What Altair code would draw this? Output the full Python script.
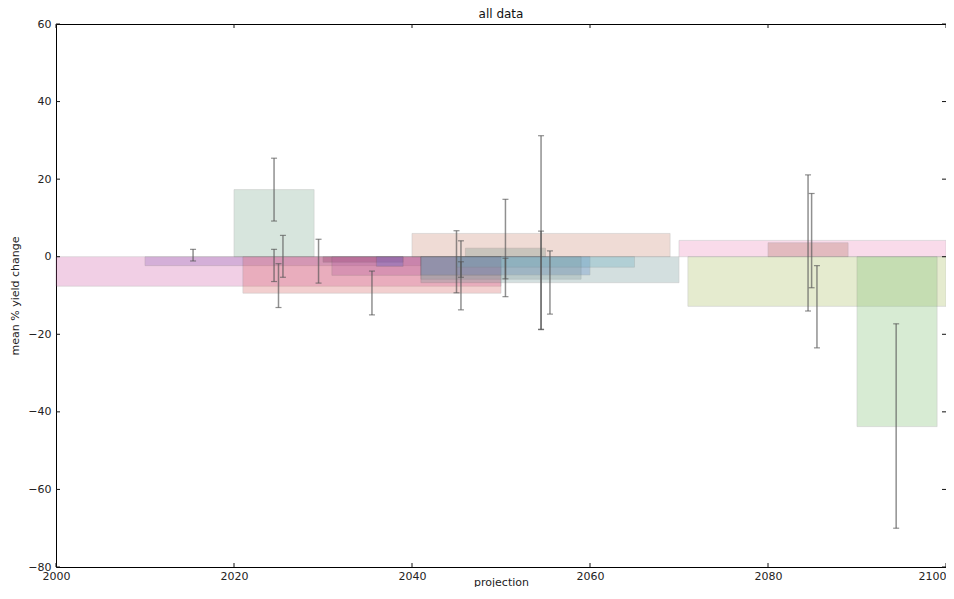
import altair as alt
import pandas as pd

# ---- data ----
bar_start = [2000, 2010, 2020, 2021, 2030, 2031, 2036, 2040, 2046, 2041, 2045, 2041, 2041, 2070, 2080, 2071, 2090]
bar_end   = [2050, 2041, 2029, 2050, 2039, 2050, 2039, 2069, 2055, 2060, 2065, 2059, 2070, 2100, 2089, 2100, 2099]
bar_value = [-7.6, -2.3, 17.3, -9.4, -1.4, -4.8, -2.5, 6.0, 2.2, -4.7, -2.7, -5.8, -6.7, 4.2, 3.6, -12.8, -43.8]
bar_color = ["#d462ac", "#9467bd", "#7dac91", "#d76262", "#8b3a62", "#b05a9a", "#5a6ad0",
             "#cd8a76", "#709184", "#4a7ad8", "#5fb4d0", "#8a9a9a", "#709898",
             "#ee8abc", "#b07060", "#acc062", "#7dc070"]

err_x    = [2015.4, 2024.5, 2024.5, 2025.0, 2025.5, 2029.5, 2035.5, 2045.0, 2045.5, 2045.5,
            2050.5, 2050.5, 2054.5, 2054.5, 2055.5, 2084.5, 2084.9, 2085.5, 2094.4]
err_low  = [-1.1, 9.2, -6.4, -13.1, -5.3, -6.8, -15.0, -9.3, -13.7, -5.3,
            -10.3, -5.7, -18.7, -18.8, -14.8, -14.0, -8.0, -23.5, -70.0]
err_high = [1.9, 25.4, 1.9, -1.8, 5.5, 4.5, -3.7, 6.7, 4.1, -1.3,
            14.8, -0.4, 31.2, 6.6, 1.5, 21.1, 16.3, -2.3, -17.3]

x_ticks = [2000, 2020, 2040, 2060, 2080, 2100]
y_ticks = [-80, -60, -40, -20, 0, 20, 40, 60]

bars = pd.DataFrame({"start": bar_start, "end": bar_end, "value": bar_value,
                     "color": bar_color, "zero": [0] * len(bar_value)})
errs = pd.DataFrame({"x": err_x, "low": err_low, "high": err_high})
xt = pd.DataFrame({"t": x_ticks})
yt = pd.DataFrame({"t": y_ticks})

W, H = 890, 543
FONT = "DejaVu Sans"

xscale = alt.Scale(domain=[2000, 2100], nice=False, zero=False)
yscale = alt.Scale(domain=[-80, 60], nice=False, zero=False)

xaxis = alt.Axis(values=x_ticks, format="d", title="projection", tickSize=0, domain=False,
                 grid=False, labelPadding=3, labelFontSize=11, titleFontSize=11,
                 titleFontWeight="normal", labelFont=FONT, titleFont=FONT,
                 labelColor="#222", titleColor="#222", titleY=18,
                 titleBaseline="alphabetic", labelFlush=False,
                 labelAlign=alt.condition(f"datum.value >= {x_ticks[-1]}",
                                          alt.value("right"), alt.value("center")))
yaxis = alt.Axis(values=y_ticks, title="mean % yield change", tickSize=0, domain=False,
                 grid=False, labelPadding=5, labelFontSize=11, titleFontSize=11,
                 titleFontWeight="normal", labelFont=FONT, titleFont=FONT,
                 labelColor="#222", titleColor="#222", titlePadding=7, labelFlush=False)

rects = alt.Chart(bars).mark_rect(opacity=0.3, stroke="#444", strokeOpacity=0.5,
                                  strokeWidth=1).encode(
    x=alt.X("start:Q", scale=xscale, axis=xaxis),
    x2="end:Q",
    y=alt.Y("value:Q", scale=yscale, axis=yaxis),
    y2="zero:Q",
    color=alt.Color("color:N", scale=None),
)

rules = alt.Chart(errs).mark_rule(color="#555", opacity=0.65, strokeWidth=1.5).encode(
    x=alt.X("x:Q", scale=xscale),
    y=alt.Y("low:Q", scale=yscale),
    y2="high:Q",
)

caps = alt.Chart(errs).transform_fold(["low", "high"], as_=["k", "v"]).mark_tick(
    orient="horizontal", color="#555", opacity=0.65, size=6, thickness=1.2).encode(
    x=alt.X("x:Q", scale=xscale),
    y=alt.Y("v:Q", scale=yscale),
)

tick_style = dict(color="#111", strokeWidth=1)
xt_bottom = alt.Chart(xt).mark_rule(**tick_style).encode(
    x=alt.X("t:Q", scale=xscale), y=alt.value(H), y2=alt.value(H - 4))
xt_top = alt.Chart(xt).mark_rule(**tick_style).encode(
    x=alt.X("t:Q", scale=xscale), y=alt.value(0), y2=alt.value(4))
yt_left = alt.Chart(yt).mark_rule(**tick_style).encode(
    y=alt.Y("t:Q", scale=yscale), x=alt.value(0), x2=alt.value(4))
yt_right = alt.Chart(yt).mark_rule(**tick_style).encode(
    y=alt.Y("t:Q", scale=yscale), x=alt.value(W), x2=alt.value(W - 4))

chart = alt.layer(rects, rules, caps, xt_bottom, xt_top, yt_left, yt_right).properties(
    width=W, height=H,
    title=alt.TitleParams("all data", fontSize=12, fontWeight="normal", font=FONT,
                          color="#111", offset=6, frame="group", dy=9),
    autosize=alt.AutoSizeParams(type="none"),
    padding={"left": 48, "top": 16, "right": 0, "bottom": 20},
    background="white",
).configure_view(stroke="#000", strokeWidth=1)

chart.save("out.html", embed_options={"renderer": "svg", "actions": False})
